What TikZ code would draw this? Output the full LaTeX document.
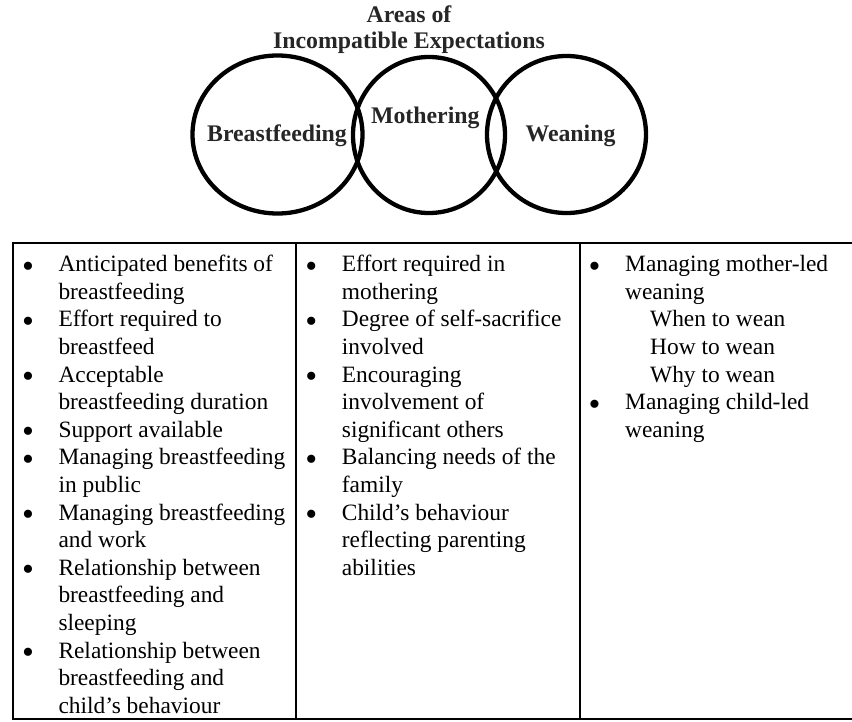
\documentclass[tikz,border=0pt]{standalone}
\usepackage{fontspec}
\setmainfont{Liberation Serif}
\usetikzlibrary{shapes.geometric}
\tikzset{
  bubble/.style={draw, ellipse, line width=4.3pt, inner sep=0pt},
  head/.style={font=\fontsize{23.8}{27.6}\selectfont\bfseries, text=black!85, anchor=base, inner sep=0pt},
  column/.style={font=\fontsize{23.4}{27.6}\selectfont, anchor=north west, inner sep=0pt},
  tabline/.style={line width=2.6pt}
}
\newcommand{\itm}{\makebox[34.5pt][l]{\hspace{-2pt}\raisebox{-5.4pt}{\scalebox{1.45}{\textbullet}}}}
\begin{document}
\begin{tikzpicture}[x=1pt,y=1pt]
      \useasboundingbox (0,0) rectangle (852,-721);
      % title
      \node[head] (t1) at (409,-22.7) {Areas of};
      \node[head] (t2) at (409,-48.3) {Incompatible Expectations};
      % the three areas
      \node[bubble, minimum width=170, minimum height=158] (bf) at (277.5,-134.5) {};
      \node[bubble, minimum width=152, minimum height=156] (mo) at (429,-135) {};
      \node[bubble, minimum width=159, minimum height=157] (we) at (566.5,-134.5) {};
      \node[head] (bfl) at (277,-141.7) {Breastfeeding};
      \node[head] (mol) at (425.3,-123.3) {Mothering};
      \node[head] (wel) at (570.5,-141.7) {Weaning};
      % table frame
      \coordinate (tl) at (13,-243);
      \coordinate (tr) at (853,-243);
      \coordinate (bl) at (13,-719);
      \coordinate (br) at (853,-719);
      \coordinate (d1t) at (296,-243);
      \coordinate (d1b) at (296,-719);
      \coordinate (d2t) at (580,-243);
      \coordinate (d2b) at (580,-719);
      \draw[tabline] (tr) -- (tl) -- (bl) -- (br);
      \draw[tabline] (d1t) -- (d1b);
      \draw[tabline] (d2t) -- (d2b);
      % columns
      \node[column] (c1) at (23.8,-252.2) {\begin{tabular}{@{}l@{}l@{}}
        \itm & Anticipated benefits of\\
             & breastfeeding\\
        \itm & Effort required to\\
             & breastfeed\\
        \itm & Acceptable\\
             & breastfeeding duration\\
        \itm & Support available\\
        \itm & Managing breastfeeding\\
             & in public\\
        \itm & Managing breastfeeding\\
             & and work\\
        \itm & Relationship between\\
             & breastfeeding and\\
             & sleeping\\
        \itm & Relationship between\\
             & breastfeeding and\\
             & child’s behaviour
      \end{tabular}};
      \node[column] (c2) at (307.2,-252.2) {\begin{tabular}{@{}l@{}l@{}}
        \itm & Effort required in\\
             & mothering\\
        \itm & Degree of self-sacrifice\\
             & involved\\
        \itm & Encouraging\\
             & involvement of\\
             & significant others\\
        \itm & Balancing needs of the\\
             & family\\
        \itm & Child’s behaviour\\
             & reflecting parenting\\
             & abilities
      \end{tabular}};
      \node[column] (c3) at (590.5,-252.2) {\begin{tabular}{@{}l@{}l@{}}
        \itm & Managing mother-led\\
             & weaning\\
             & \hspace{25pt}When to wean\\
             & \hspace{25pt}How to wean\\
             & \hspace{25pt}Why to wean\\
        \itm & Managing child-led\\
             & weaning
      \end{tabular}};
    \end{tikzpicture}
\end{document}
